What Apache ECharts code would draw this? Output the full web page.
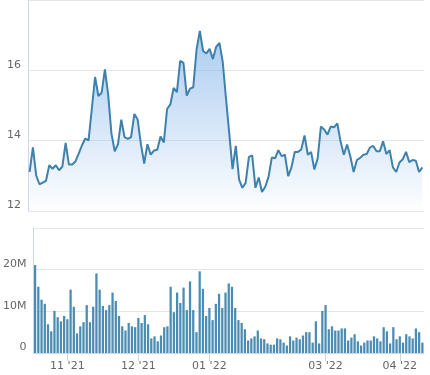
<!DOCTYPE html>
<html>
<head>
<meta charset="utf-8">
<script src="https://cdn.jsdelivr.net/npm/echarts@6/dist/echarts.min.js"></script>
<style>
html,body{margin:0;padding:0;background:#fff;}
#c{width:430px;height:375px;}
</style>
</head>
<body>
<div id="c"></div>
<script>
const priceValues = [
  13.11, 13.81, 13.01, 12.76, 12.81, 12.86, 13.3, 13.2, 13.3, 13.16,
  13.26, 13.94, 13.32, 13.32, 13.41, 13.63, 13.87, 14.06, 14.01, 14.9,
  15.81, 15.27, 15.36, 16.03, 15.3, 14.2, 13.7, 13.9, 14.6, 14.1,
  14.05, 14.1, 14.76, 14.6, 13.9, 13.35, 13.9, 13.6, 13.72, 13.74,
  14.12, 13.95, 14.9, 15.03, 15.5, 15.38, 16.27, 16.21, 15.28, 15.48,
  15.52, 16.59, 17.12, 16.55, 16.48, 16.61, 16.32, 16.67, 16.78, 16.24,
  15.2, 14.2, 13.19, 13.85, 12.89, 12.66, 12.8, 13.54, 13.58, 12.66,
  12.95, 12.54, 12.69, 12.97, 13.52, 13.5, 13.73, 13.56, 13.6, 12.99,
  13.24, 13.68, 13.68, 13.75, 14.15, 13.6, 13.68, 13.18, 13.49, 14.4,
  14.32, 14.17, 14.4, 14.38, 14.49, 13.98, 13.6, 13.89, 13.55, 13.11,
  13.45, 13.51, 13.6, 13.62, 13.81, 13.85, 13.7, 13.7, 13.98, 13.62,
  13.73, 13.24, 13.11, 13.38, 13.47, 13.68, 13.39, 13.45, 13.43, 13.11,
  13.24
];
// volume in millions
const volumeValues = [
  21.1, 15.9, 12.8, 11.8, 6.9, 5.2, 10.1, 8.6, 7.6, 8.9,
  8.1, 15.2, 11.1, 4.7, 6.4, 7.4, 11.5, 7.4, 11.1, 19.1,
  15.2, 11.3, 10.3, 11.5, 14.5, 12.5, 8.9, 6.4, 5.4, 7.2,
  6.4, 6.2, 8.4, 7.2, 9.1, 6.9, 3.5, 4.0, 2.8, 4.2,
  6.2, 6.4, 15.9, 9.8, 14.5, 12.0, 15.7, 10.3, 17.2, 10.3,
  5.0, 19.6, 15.4, 8.9, 10.8, 7.9, 11.8, 14.2, 10.8, 14.5,
  16.7, 15.9, 10.8, 7.9, 7.2, 5.7, 3.0, 3.5, 4.0, 5.4,
  3.5, 3.3, 2.3, 2.0, 2.0, 3.5, 3.3, 2.5, 1.8, 4.0,
  3.0, 3.7, 3.3, 4.2, 5.0, 5.0, 2.5, 7.6, 2.3, 10.1,
  11.5, 5.7, 6.4, 5.4, 5.4, 5.9, 5.9, 3.0, 3.7, 4.5,
  2.8, 1.8, 2.5, 3.0, 3.0, 4.0, 3.5, 2.8, 6.2, 5.2,
  2.3, 6.2, 3.3, 4.0, 2.5, 4.5, 4.0, 3.5, 5.9, 5.0,
  2.5
];
const tickIndices = [10, 32, 54, 90, 113];
const tickLabels = ["11 '21", "12 '21", "01 '22", "03 '22", "04 '22"];
const categories = priceValues.map((_, i) => String(i));

const FONT = 'DejaVu Sans';
const FS = 11;
const labelColor = '#666666';
const axisLineColor = '#ccd6eb';
const gridColor = '#e6e6e6';

const chart = echarts.init(document.getElementById('c'), null, {renderer: 'canvas'});
const isTick = (idx) => tickIndices.indexOf(idx) >= 0;

chart.setOption({
  animation: false,
  backgroundColor: '#ffffff',
  grid: [
    {left: 28, right: 6, top: -1, height: 212},
    {left: 28, right: 6, top: 228, height: 125}
  ],
  xAxis: [
    {
      type: 'category', gridIndex: 0, data: categories, boundaryGap: true,
      axisLine: {show: false}, axisTick: {show: false}, axisLabel: {show: false},
      splitLine: {show: false}
    },
    {
      type: 'category', gridIndex: 1, data: categories, boundaryGap: true,
      axisLine: {show: true, lineStyle: {color: axisLineColor, width: 1}},
      axisTick: {show: true, alignWithLabel: true, interval: (idx) => isTick(idx), length: 8,
                 lineStyle: {color: axisLineColor}},
      axisLabel: {
        show: true, interval: (idx) => isTick(idx), margin: 8,
        color: labelColor, fontFamily: FONT, fontSize: FS,
        formatter: (val, idx) => { const k = tickIndices.indexOf(idx); return k >= 0 ? tickLabels[k] : ''; }
      },
      splitLine: {show: false}
    }
  ],
  yAxis: [
    {
      type: 'value', gridIndex: 0, min: 12, max: 18, interval: 2,
      axisLine: {show: true, lineStyle: {color: axisLineColor}},
      axisTick: {show: false},
      axisLabel: {color: labelColor, fontFamily: FONT, fontSize: FS, margin: 7,
                  verticalAlign: 'bottom', showMaxLabel: false},
      splitLine: {show: true, lineStyle: {color: gridColor, width: 1}}
    },
    {
      type: 'value', gridIndex: 1, min: 0, max: 30, interval: 10,
      axisLine: {show: true, lineStyle: {color: axisLineColor}},
      axisTick: {show: false},
      axisLabel: {color: labelColor, fontFamily: FONT, fontSize: FS, margin: 7,
                  verticalAlign: 'bottom', showMaxLabel: true,
                  formatter: (v) => v === 0 ? '0' : (v === 30 ? '' : v + 'M')},
      splitLine: {show: true, lineStyle: {color: gridColor, width: 1}}
    }
  ],
  series: [
    {
      type: 'line', xAxisIndex: 0, yAxisIndex: 0, data: priceValues,
      symbol: 'none', smooth: false,
      lineStyle: {color: '#3f81ad', width: 2},
      areaStyle: {
        origin: 'start',
        color: new echarts.graphic.LinearGradient(0, 0, 0, 1, [
          {offset: 0, color: 'rgba(118,172,232,0.88)'},
          {offset: 1, color: 'rgba(118,172,232,0.02)'}
        ])
      }
    },
    {
      type: 'bar', xAxisIndex: 1, yAxisIndex: 1, data: volumeValues,
      barWidth: '70%',
      itemStyle: {color: '#4b8cb2'}
    }
  ]
});
</script>
</body>
</html>
